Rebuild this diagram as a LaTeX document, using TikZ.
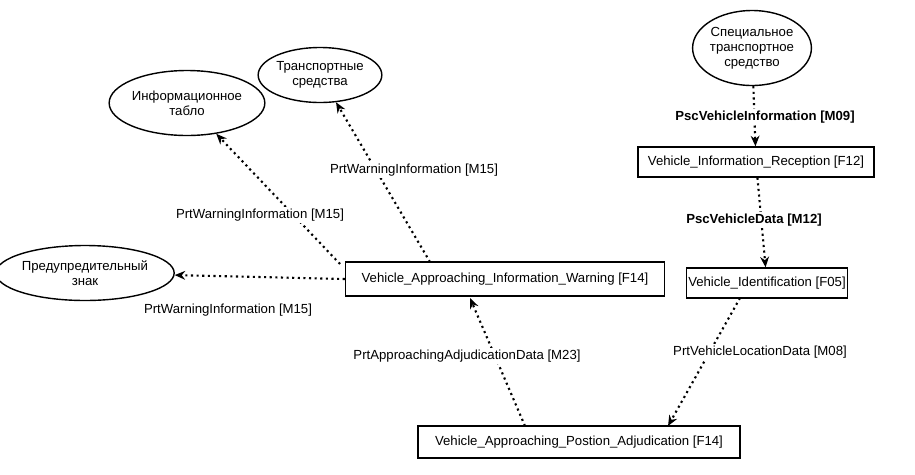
\documentclass[tikz,border=0pt]{standalone}
\usepackage{fontspec}
\setmainfont{Liberation Sans}
\usetikzlibrary{shapes.geometric,arrows.meta}
\begin{document}
\begin{tikzpicture}[x=0.02cm,y=-0.02cm,
  every node/.style={font=\fontsize{7.5}{8.5}\selectfont},
  ell/.style={draw,ellipse,line width=0.8pt,align=center,inner sep=0pt},
  box/.style={draw,rectangle,line width=0.8pt,minimum height=0.6cm},
  flow/.style={dotted,line width=1.2pt,-{Stealth[length=6pt,width=5pt]}},
  lbl/.style={fill=white,inner sep=1pt}]
\useasboundingbox (0,0) rectangle (915,474);
\node[ell,minimum width=1.8cm,minimum height=1.5cm] (sts) at (752,48) {Специальное\\транспортное\\средство};
\node[ell,minimum width=1.7cm,minimum height=1.1cm] (ts) at (320,75) {Транспортные\\средства};
\node[ell,minimum width=2.5cm,minimum height=1.3cm] (it) at (187,103) {Информационное\\табло};
\node[ell,minimum width=3cm,minimum height=1.1cm] (pz) at (85,273) {Предупредительный\\знак};
\node[box,minimum width=4.72cm] (f12) at (756,162) {Vehicle\_Information\_Reception [F12]};
\node[box,inner xsep=1pt,minimum width=2.7cm] (f05) at (767,283) {Vehicle\_Identification [F05]};
\node[box,minimum width=6.38cm,minimum height=0.68cm] (f14) at (505,279) {Vehicle\_Approaching\_Information\_Warning [F14]};
\node[box,minimum width=6.44cm,minimum height=0.64cm] (adj) at (579,442) {Vehicle\_Approaching\_Postion\_Adjudication [F14]};
\coordinate (a1) at (340,264);
\coordinate (a2) at (430,262);
\coordinate (a3) at (525,426);
\coordinate (a4) at (740,298);
\coordinate (a5) at (668,426);
\draw[flow] (sts) -- (f12);
\draw[flow] (f12) -- (f05);
\draw[flow] (a4) -- (a5);
\draw[flow] (a3) -- (470,298);
\draw[flow] (f14.west) -- (pz);
\draw[flow] (a1) -- (it);
\draw[flow] (a2) -- (ts);
\node[lbl,font=\fontsize{7.5}{8.5}\selectfont\bfseries] (l1) at (765,117) {PscVehicleInformation [M09]};
\node[lbl,font=\fontsize{7.5}{8.5}\selectfont\bfseries] (l2) at (754,220) {PscVehicleData [M12]};
\node[lbl] (l3) at (760,352) {PrtVehicleLocationData [M08]};
\node[lbl] (l4) at (467,356) {PrtApproachingAdjudicationData [M23]};
\node[lbl] (l5) at (260,215) {PrtWarningInformation [M15]};
\node[lbl] (l6) at (414,170) {PrtWarningInformation [M15]};
\node[lbl] (l7) at (228,310) {PrtWarningInformation [M15]};
\end{tikzpicture}
\end{document}
